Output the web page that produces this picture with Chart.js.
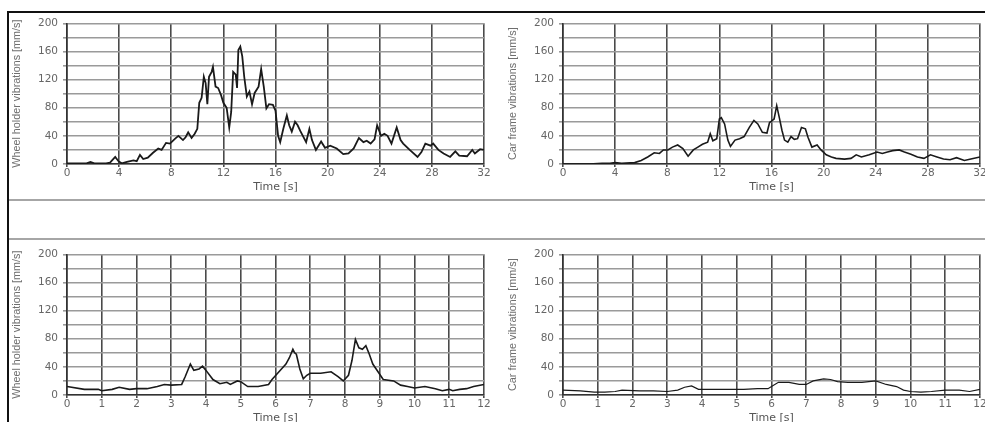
<!DOCTYPE html>
<html>
<head>
<meta charset="utf-8">
<script src="https://cdn.jsdelivr.net/npm/chart.js@4.4.1/dist/chart.umd.min.js"></script>
<style>
  html, body { margin: 0; padding: 0; background: #fff; }
  body { width: 985px; height: 422px; overflow: hidden; position: relative; }
  .panel { position: absolute; width: 489px; height: 186px; }
  .rule { position: absolute; }
</style>
</head>
<body>
<div class="rule" style="left:7px;top:11px;width:978px;height:2px;background:#111"></div>
<div class="rule" style="left:7px;top:11px;width:2px;height:411px;background:#111"></div>
<div class="rule" style="left:9px;top:199px;width:976px;height:2px;background:#a6a6a6"></div>
<div class="rule" style="left:9px;top:238px;width:976px;height:2px;background:#a6a6a6"></div>

<div class="panel" style="left:8px;top:12px"><canvas id="wheelLong"></canvas></div>
<div class="panel" style="left:504px;top:12px"><canvas id="frameLong"></canvas></div>
<div class="panel" style="left:8px;top:243px"><canvas id="wheelShort"></canvas></div>
<div class="panel" style="left:504px;top:243px"><canvas id="frameShort"></canvas></div>

<script>
// 32 s run, wheel holder
const wheelTime32 = [0, 0.5, 1, 1.5, 1.8, 2.1, 2.6, 3, 3.3, 3.7, 3.95, 4.2, 4.6, 5.1, 5.35, 5.6, 5.85, 6.2, 6.6, 7,
  7.26, 7.6, 7.9, 8.3, 8.55, 8.9, 9.1, 9.3, 9.56, 9.8, 10, 10.15, 10.33, 10.5, 10.64, 10.77, 10.9, 11.1, 11.2, 11.4,
  11.6, 11.8, 12, 12.25, 12.45, 12.6, 12.75, 12.95, 13.05, 13.15, 13.3, 13.45, 13.6, 13.8, 14, 14.2, 14.4, 14.7, 14.9, 15.1,
  15.3, 15.5, 15.8, 16, 16.2, 16.36, 16.6, 16.87, 17.05, 17.25, 17.5, 17.7, 17.9, 18.1, 18.35, 18.6, 18.8, 19.1, 19.5, 19.8,
  20.2, 20.7, 21.2, 21.6, 22, 22.4, 22.75, 23, 23.3, 23.6, 23.8, 24.1, 24.35, 24.6, 24.9, 25.3, 25.6, 25.8, 26.3, 26.9,
  27.2, 27.5, 27.9, 28.1, 28.5, 28.9, 29.4, 29.8, 30.1, 30.7, 31.1, 31.3, 31.7, 32];
const wheelSpeed32 = [1, 1, 1, 1, 3, 1, 1, 1, 2, 10, 4, 1, 3, 5, 4, 13, 7, 9, 16, 22,
  20, 30, 29, 36, 40, 34, 38, 45, 37, 43, 50, 87, 94, 124, 115, 85, 124, 131, 138, 110,
  108, 99, 87, 80, 52, 74, 131, 127, 108, 162, 167, 153, 124, 96, 103, 85, 101, 110, 135, 110,
  79, 85, 84, 76, 40, 31, 50, 69, 55, 46, 60, 55, 47, 40, 31, 50, 34, 20, 32, 23,
  26, 22, 14, 15, 22, 37, 31, 33, 29, 35, 55, 40, 43, 40, 29, 52, 34, 29, 20, 10,
  17, 29, 26, 29, 20, 15, 10, 18, 12, 11, 20, 15, 21, 20];

// 32 s run, car frame
const frameTime32 = [0, 1, 2, 3, 3.6, 4, 4.5, 5.5, 6, 6.5, 7, 7.4, 7.7, 8.05, 8.4, 8.8, 9.2, 9.6, 10, 10.35,
  10.7, 11.1, 11.3, 11.5, 11.8, 12, 12.15, 12.4, 12.65, 12.85, 13.2, 13.55, 13.9, 14.3, 14.65, 14.95, 15.3, 15.65, 15.85, 16,
  16.2, 16.4, 16.6, 16.8, 17, 17.25, 17.5, 17.75, 18, 18.3, 18.6, 18.8, 19.1, 19.5, 19.8, 20.2, 20.6, 20.95, 21.6, 22.1,
  22.5, 22.9, 23.5, 24.1, 24.5, 24.9, 25.3, 25.8, 26.2, 26.7, 27.2, 27.7, 28.2, 28.7, 29.2, 29.7, 30.2, 30.8, 31.3, 32];
const frameSpeed32 = [0, 0, 0, 1, 1, 2, 1, 2, 5, 10, 16, 15, 20, 20, 24, 27, 22, 11, 20, 24,
  28, 31, 43, 33, 36, 64, 66, 57, 34, 25, 34, 36, 39, 52, 62, 57, 45, 44, 59, 61,
  64, 83, 66, 48, 34, 31, 39, 35, 36, 52, 50, 38, 24, 27, 20, 13, 10, 8, 7, 8,
  13, 10, 13, 17, 15, 17, 19, 20, 17, 14, 10, 8, 13, 10, 7, 6, 9, 5, 7, 10];

// 12 s run, wheel holder
const wheelTime12 = [0, 0.5, 0.9, 1, 1.3, 1.5, 1.8, 2, 2.3, 2.6, 2.8, 3, 3.3, 3.4, 3.55, 3.65, 3.8, 3.9, 4, 4.2,
  4.4, 4.6, 4.7, 4.9, 5, 5.2, 5.5, 5.8, 5.9, 6.1, 6.3, 6.4, 6.5, 6.55, 6.6, 6.7, 6.8, 6.9, 7, 7.3,
  7.6, 7.8, 7.95, 8.1, 8.2, 8.3, 8.4, 8.5, 8.6, 8.7, 8.8, 8.95, 9.1, 9.4, 9.6, 9.8, 10, 10.3, 10.6, 10.8,
  11, 11.1, 11.3, 11.5, 11.7, 12];
const wheelSpeed12 = [12, 8, 8, 6, 8, 11, 8, 9, 9, 12, 15, 14, 15, 26, 44, 35, 37, 41, 35, 22,
  16, 18, 15, 20, 19, 12, 12, 15, 22, 33, 44, 53, 65, 60, 58, 37, 23, 28, 31, 31,
  33, 26, 20, 28, 49, 79, 67, 65, 70, 58, 44, 33, 22, 20, 14, 12, 10, 12, 9, 6,
  8, 6, 8, 9, 12, 15];

// 12 s run, car frame
const frameTime12 = [0, 0.5, 0.9, 1.2, 1.5, 1.7, 2.2, 2.6, 3, 3.3, 3.5, 3.7, 3.9, 4.3, 4.8, 5.2, 5.6, 5.9, 6, 6.2,
  6.5, 6.8, 7, 7.2, 7.5, 7.7, 7.9, 8.2, 8.6, 9, 9.3, 9.6, 9.8, 10, 10.3, 10.6, 11, 11.4, 11.7, 12];
const frameSpeed12 = [7, 6, 4, 4, 5, 7, 6, 6, 5, 7, 11, 13, 8, 8, 8, 8, 9, 9, 12, 18,
  18, 15, 15, 20, 23, 22, 19, 18, 18, 20, 15, 12, 7, 5, 4, 5, 7, 7, 5, 8];

const yMax = 200;
const yGridStep = 20;
const yLabelStep = 40;

const tickFont = { family: 'DejaVu Sans', size: 10.5 };

function toPoints(times, values) {
  return times.map((t, i) => ({ x: t, y: values[i] }));
}

function createPanel(canvasId, times, values, xMax, xStep, yTitle, lineWidth) {
  const canvas = document.getElementById(canvasId);
  return new Chart(canvas, {
    type: 'line',
    data: {
      datasets: [{
        data: toPoints(times, values),
        borderColor: '#1a1a1a',
        borderWidth: lineWidth,
        pointRadius: 0,
        tension: 0,
        fill: false
      }]
    },
    options: {
      responsive: true,
      maintainAspectRatio: false,
      animation: false,
      events: [],
      layout: { padding: { left: 0, top: 9, right: 13, bottom: 0 } },
      plugins: { legend: { display: false }, tooltip: { enabled: false } },
      scales: {
        x: {
          type: 'linear',
          min: 0,
          max: xMax,
          afterFit: (scale) => { scale.height = 34; },
          ticks: { stepSize: xStep, autoSkip: false, maxRotation: 0, padding: 0, color: '#666', font: tickFont },
          grid: { color: '#4a4a4a', lineWidth: 1.6, tickLength: 3 },
          border: { color: '#333', width: 1.6 },
          title: {
            display: true, text: 'Time [s]', color: '#555',
            font: { family: 'DejaVu Sans', size: 11 }, padding: { top: 0, bottom: 4.5 }
          }
        },
        y: {
          min: 0,
          max: yMax,
          afterFit: (scale) => { scale.width = 59; },
          ticks: {
            stepSize: yGridStep, autoSkip: false, padding: 5, color: '#666', font: tickFont,
            callback: (v) => (v % yLabelStep === 0 ? v : '')
          },
          grid: { color: '#9a9a9a', lineWidth: 1.6, tickLength: 4 },
          border: { color: '#333', width: 1.6 },
          title: {
            display: true, text: yTitle, color: '#6e6e6e',
            font: { family: 'Liberation Sans', size: 10.8 }, padding: { top: 3, bottom: 0 }
          }
        }
      }
    }
  });
}

createPanel('wheelLong', wheelTime32, wheelSpeed32, 32, 4, 'Wheel holder vibrations [mm/s]', 1.8);
createPanel('frameLong', frameTime32, frameSpeed32, 32, 4, 'Car frame vibrations [mm/s]', 1.6);
createPanel('wheelShort', wheelTime12, wheelSpeed12, 12, 1, 'Wheel holder vibrations [mm/s]', 1.6);
createPanel('frameShort', frameTime12, frameSpeed12, 12, 1, 'Car frame vibrations [mm/s]', 1.2);
</script>
</body>
</html>
